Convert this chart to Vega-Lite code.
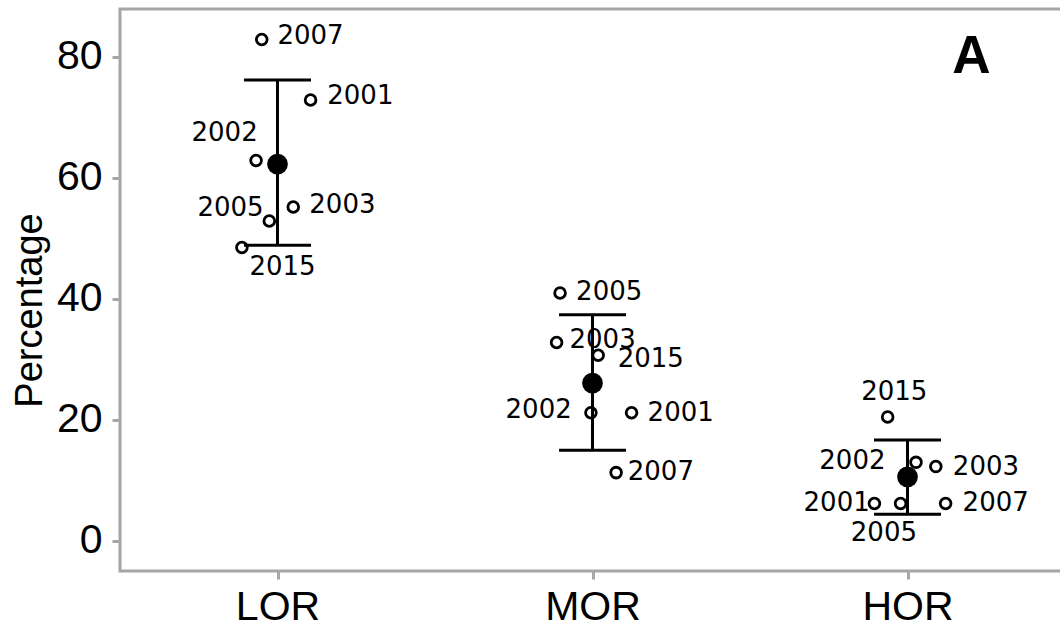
{
  "$schema": "https://vega.github.io/schema/vega-lite/v6.json",
  "width": 945,
  "height": 562,
  "autosize": {"type": "none"},
  "padding": {"left": 120, "top": 9, "right": 0, "bottom": 60},
  "background": "white",
  "config": {
    "view": {"stroke": "#a6a6a6", "strokeWidth": 3},
    "font": "Liberation Sans"
  },
  "datasets": {
    "points": [
      {"grp": "LOR", "year": "2007", "xj": 0.950, "value": 82.9, "lx": 1.105, "ly": 83.4},
      {"grp": "LOR", "year": "2001", "xj": 1.105, "value": 72.9, "lx": 1.263, "ly": 73.6},
      {"grp": "LOR", "year": "2002", "xj": 0.932, "value": 62.9, "lx": 0.832, "ly": 67.4},
      {"grp": "LOR", "year": "2003", "xj": 1.050, "value": 55.2, "lx": 1.206, "ly": 55.5},
      {"grp": "LOR", "year": "2005", "xj": 0.974, "value": 52.9, "lx": 0.851, "ly": 55.0},
      {"grp": "LOR", "year": "2015", "xj": 0.887, "value": 48.5, "lx": 1.016, "ly": 45.3},
      {"grp": "MOR", "year": "2005", "xj": 1.897, "value": 41.0, "lx": 2.053, "ly": 41.2},
      {"grp": "MOR", "year": "2003", "xj": 1.886, "value": 32.8, "lx": 2.032, "ly": 33.2},
      {"grp": "MOR", "year": "2015", "xj": 2.018, "value": 30.7, "lx": 2.185, "ly": 30.0},
      {"grp": "MOR", "year": "2002", "xj": 1.995, "value": 21.2, "lx": 1.829, "ly": 21.65},
      {"grp": "MOR", "year": "2001", "xj": 2.124, "value": 21.2, "lx": 2.280, "ly": 21.2},
      {"grp": "MOR", "year": "2007", "xj": 2.075, "value": 11.3, "lx": 2.217, "ly": 11.45},
      {"grp": "HOR", "year": "2015", "xj": 2.937, "value": 20.5, "lx": 2.958, "ly": 24.7},
      {"grp": "HOR", "year": "2002", "xj": 3.027, "value": 13.0, "lx": 2.825, "ly": 13.27},
      {"grp": "HOR", "year": "2003", "xj": 3.090, "value": 12.3, "lx": 3.249, "ly": 12.28},
      {"grp": "HOR", "year": "2001", "xj": 2.895, "value": 6.2, "lx": 2.775, "ly": 6.33},
      {"grp": "HOR", "year": "2005", "xj": 2.978, "value": 6.2, "lx": 2.925, "ly": 1.27},
      {"grp": "HOR", "year": "2007", "xj": 3.121, "value": 6.2, "lx": 3.280, "ly": 6.23}
    ],
    "summary": [
      {"grp": "LOR", "pos": 1, "mean": 62.3, "lo": 48.9, "hi": 76.2},
      {"grp": "MOR", "pos": 2, "mean": 26.1, "lo": 15.0, "hi": 37.4},
      {"grp": "HOR", "pos": 3, "mean": 10.6, "lo": 4.4, "hi": 16.7}
    ],
    "tag": [{"label": "A", "tx": 3.203, "ty": 80}]
  },
  "layer": [
    {
      "data": {"name": "summary"},
      "mark": {"type": "rule", "color": "black", "strokeWidth": 3},
      "encoding": {
        "x": {
          "field": "pos", "type": "quantitative",
          "scale": {"domain": [0.5, 3.5], "nice": false, "zero": false},
          "axis": {
            "values": [1, 2, 3],
            "labelExpr": "datum.value == 1 ? 'LOR' : datum.value == 2 ? 'MOR' : 'HOR'",
            "title": null, "grid": false, "domain": false,
            "tickColor": "#a6a6a6", "tickWidth": 3, "tickSize": 8,
            "labelFont": "Liberation Sans", "labelFontSize": 41, "labelColor": "black",
            "labelPadding": 8
          }
        },
        "y": {
          "field": "lo", "type": "quantitative",
          "scale": {"domain": [-4.96, 87.93], "nice": false, "zero": false},
          "axis": {
            "values": [0, 20, 40, 60, 80],
            "title": "Percentage", "grid": false, "domain": false,
            "tickColor": "#a6a6a6", "tickWidth": 3, "tickSize": 8,
            "labelFont": "Liberation Sans", "labelFontSize": 41, "labelColor": "black",
            "labelPadding": 10,
            "titleFont": "Liberation Sans", "titleFontSize": 38, "titleFontWeight": "normal",
            "titleColor": "black", "titleAngle": -90, "titleAlign": "center",
            "titleBaseline": "alphabetic", "titleX": -79, "titleY": 301
          }
        },
        "y2": {"field": "hi"}
      }
    },
    {
      "data": {"name": "summary"},
      "mark": {"type": "tick", "orient": "horizontal", "color": "black", "size": 67, "thickness": 3, "opacity": 1},
      "encoding": {
        "x": {"field": "pos", "type": "quantitative"},
        "y": {"field": "hi", "type": "quantitative"}
      }
    },
    {
      "data": {"name": "summary"},
      "mark": {"type": "tick", "orient": "horizontal", "color": "black", "size": 67, "thickness": 3, "opacity": 1},
      "encoding": {
        "x": {"field": "pos", "type": "quantitative"},
        "y": {"field": "lo", "type": "quantitative"}
      }
    },
    {
      "data": {"name": "points"},
      "mark": {"type": "point", "shape": "circle", "filled": false, "stroke": "black", "strokeWidth": 2.8, "size": 115, "opacity": 1},
      "encoding": {
        "x": {"field": "xj", "type": "quantitative"},
        "y": {"field": "value", "type": "quantitative"}
      }
    },
    {
      "data": {"name": "summary"},
      "mark": {"type": "circle", "color": "black", "size": 430, "opacity": 1},
      "encoding": {
        "x": {"field": "pos", "type": "quantitative"},
        "y": {"field": "mean", "type": "quantitative"}
      }
    },
    {
      "data": {"name": "points"},
      "mark": {"type": "text", "font": "DejaVu Sans", "fontSize": 26, "color": "black", "align": "center", "baseline": "middle"},
      "encoding": {
        "x": {"field": "lx", "type": "quantitative"},
        "y": {"field": "ly", "type": "quantitative"},
        "text": {"field": "year"}
      }
    },
    {
      "data": {"name": "tag"},
      "mark": {"type": "text", "font": "Liberation Sans", "fontSize": 53, "fontWeight": "bold", "color": "black", "align": "center", "baseline": "middle"},
      "encoding": {
        "x": {"field": "tx", "type": "quantitative"},
        "y": {"field": "ty", "type": "quantitative"},
        "text": {"field": "label"}
      }
    }
  ]
}
